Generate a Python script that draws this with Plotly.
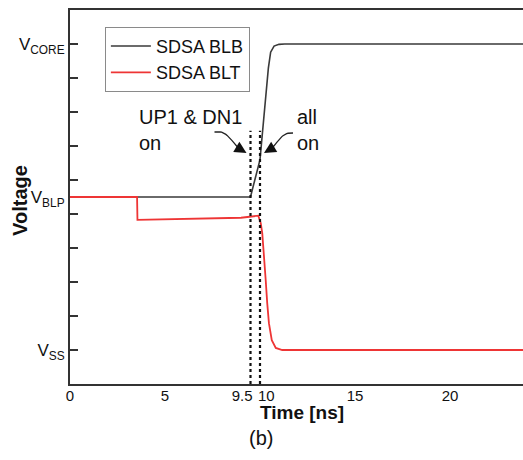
import plotly.graph_objects as go

# ---- data -------------------------------------------------------------
# SDSA BLB (bit-line bar) transient, time in ns, voltage in V
blb_time = [0.0, 9.5, 10.0, 10.12, 10.30, 10.44, 10.56, 10.74, 11.0, 11.3, 25.0]
blb_volt = [0.45, 0.45, 0.56, 0.632, 0.741, 0.829, 0.876, 0.894, 0.899, 0.9, 0.9]

# SDSA BLT (bit-line true) transient
blt_time = [0.0, 3.53, 3.55, 6.0, 9.0, 9.91, 10.04, 10.12, 10.21, 10.30,
            10.38, 10.47, 10.62, 10.83, 11.17, 25.0]
blt_volt = [0.45, 0.45, 0.383, 0.386, 0.389, 0.395, 0.373, 0.343, 0.285, 0.206,
            0.138, 0.079, 0.029, 0.006, 0.0, 0.0]

# switching instants (ns) marked by dotted lines
switch_times = [9.5, 10.0]
switch_top = 0.645

# axis ticks
x_tickvals = [0, 5, 9.5, 10, 15, 20]
x_ticktext = ["0", "5", "9.5" + "\u00a0" * 4, "\u00a0" * 3 + "10", "15", "20"]
y_levels = [0.0, 0.45, 0.9]
y_level_names = ["V<sub>SS</sub>", "V<sub>BLP</sub>", "V<sub>CORE</sub>"]
y_minor = [round(0.1 * i, 1) for i in range(10)]

FONT = "Arial, Liberation Sans, sans-serif"
AX = "#333333"

# plot geometry: 19 px per ns, 340 px per V
PX_NS = 19.0
PX_V = 340.0
X_MAX = 453 / PX_NS


def bezier_offsets(x0, y0, pts, n=16):
    """Sample a cubic curve given as pixel offsets (right, up) around a data point."""
    xs, ys = [], []
    for i in range(n + 1):
        u = i / n
        w = [(1 - u) ** 3, 3 * u * (1 - u) ** 2, 3 * u * u * (1 - u), u ** 3]
        px = sum(wi * p[0] for wi, p in zip(w, pts))
        py = sum(wi * p[1] for wi, p in zip(w, pts))
        xs.append(round(x0 + px / PX_NS, 4))
        ys.append(round(y0 + py / PX_V, 4))
    return xs, ys


fig = go.Figure()
fig.add_trace(go.Scatter(x=blb_time, y=blb_volt, mode="lines", name="SDSA BLB",
                         line=dict(color="#3a3a3a", width=1.6)))
fig.add_trace(go.Scatter(x=blt_time, y=blt_volt, mode="lines", name="SDSA BLT",
                         line=dict(color="#ee3535", width=1.8)))

# curved arrow tails
tails = [
    (switch_times[0], [(-36, 14), (-25, 16), (-21, 8), (-13, -1)]),
    (switch_times[1], [(33, 13), (23, 14), (20, 7), (13, -1)]),
]
for xa, pts in tails:
    tx, ty = bezier_offsets(xa, 0.6, pts)
    fig.add_trace(go.Scatter(x=tx, y=ty, mode="lines", showlegend=False,
                             hoverinfo="skip", line=dict(color="#222222", width=1.3)))

# dotted markers for the switching instants
dx, dy = [], []
for t in switch_times:
    dx += [t, t, None]
    dy += [-0.1, switch_top, None]
fig.add_trace(go.Scatter(x=dx, y=dy, mode="lines", yaxis="y2", showlegend=False,
                         hoverinfo="skip",
                         line=dict(color="#111111", width=2.2, dash="dot")))

# arrow heads
for xa, sgn in [(switch_times[0], -1), (switch_times[1], 1)]:
    fig.add_annotation(x=xa, y=0.6, xref="x", yref="y", xshift=4 * sgn, yshift=-7,
                       ax=10 * sgn, ay=-6, showarrow=True, arrowhead=2,
                       arrowsize=1.7, arrowwidth=1.4, arrowcolor="#111111", text="")

# text labels
fig.add_annotation(x=3.53, y=0.647, xref="x", yref="y", xanchor="left", yanchor="middle",
                   text="UP1 & DN1<br>on", showarrow=False, align="left",
                   font=dict(family=FONT, size=20, color="#111111"))
fig.add_annotation(x=11.84, y=0.647, xref="x", yref="y", xanchor="left", yanchor="middle",
                   text="all<br>on", showarrow=False, align="left",
                   font=dict(family=FONT, size=20, color="#111111"))

# axis titles and panel tag
fig.add_annotation(x=0.512, y=-0.075, xref="paper", yref="paper", text="<b>Time [ns]</b>",
                   showarrow=False, xanchor="center", yanchor="middle",
                   font=dict(family=FONT, size=19, color="#111111"))
fig.add_annotation(x=-0.11, y=0.49, xref="paper", yref="paper", text="<b>Voltage</b>",
                   textangle=-90, showarrow=False, xanchor="center", yanchor="middle",
                   font=dict(family=FONT, size=20, color="#111111"))
fig.add_annotation(x=0.4216, y=-0.145, xref="paper", yref="paper", text="(b)",
                   showarrow=False, xanchor="center", yanchor="middle",
                   font=dict(family=FONT, size=20, color="#111111"))

fig.update_layout(
    width=523, height=460,
    margin=dict(l=70, r=0, t=10, b=76),
    paper_bgcolor="white", plot_bgcolor="white",
    font=dict(family=FONT, color="#111111"),
    showlegend=True,
    legend=dict(x=0.077, y=0.955, xanchor="left", yanchor="top",
                bgcolor="white", bordercolor="#8a8a8a", borderwidth=1,
                font=dict(family=FONT, size=18, color="#111111"),
                itemwidth=40, tracegroupgap=0),
    xaxis=dict(range=[0, X_MAX], showgrid=False, zeroline=False,
               showline=True, linecolor=AX, linewidth=2, mirror=True,
               ticks="", tickvals=x_tickvals, ticktext=x_ticktext, tickangle=0,
               ticklabelstandoff=-3,
               tickfont=dict(family=FONT, size=15, color="#111111")),
    yaxis=dict(range=[-0.1, 1.0], showgrid=False, zeroline=False,
               showline=True, linecolor=AX, linewidth=2,
               ticks="", tickvals=y_levels, ticktext=y_level_names,
               tickfont=dict(family=FONT, size=17, color="#111111")),
    yaxis2=dict(range=[-0.1, 1.0], overlaying="y", side="left", anchor="x",
                showgrid=False, zeroline=False, showline=False,
                ticks="inside", ticklen=8, tickwidth=1.6, tickcolor=AX,
                tickvals=y_minor, showticklabels=False),
)

fig.write_html("out.html")
